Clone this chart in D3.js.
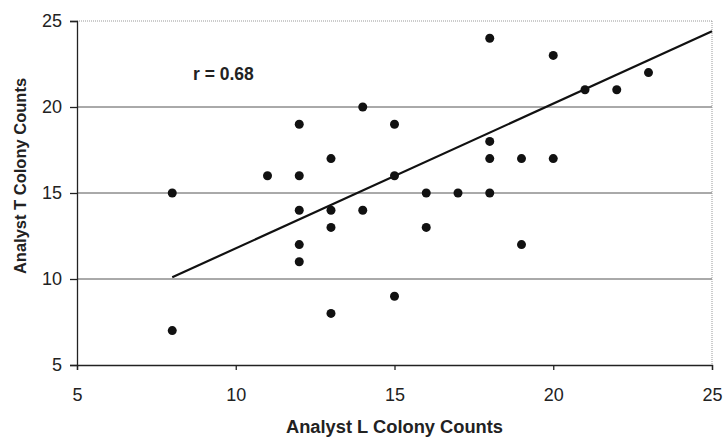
<!DOCTYPE html>
<html>
<head>
<meta charset="utf-8">
<script src="https://cdn.jsdelivr.net/npm/d3@7"></script>
<style>
  html, body { margin: 0; padding: 0; background: #fff; }
  svg { display: block; font-family: "Liberation Sans", Arial, sans-serif; }
</style>
</head>
<body>
<svg id="chart" width="724" height="438"></svg>
<script>
// Colony counts: analyst L (x) against analyst T (y)
const analystL = [8, 8, 11, 12, 12, 12, 12, 12, 13, 13, 13, 13, 14, 14, 15, 15, 15,
                  16, 16, 17, 18, 18, 18, 18, 19, 19, 20, 20, 21, 22, 23];
const analystT = [15, 7, 16, 19, 16, 14, 12, 11, 17, 14, 13, 8, 20, 14, 19, 16, 9,
                  15, 13, 15, 24, 18, 17, 15, 17, 12, 23, 17, 21, 21, 22];
// Fitted trend line endpoints [x, y]
const trendLine = [[8, 10.1], [25, 24.4]];
const xTicks = [5, 10, 15, 20, 25];
const yTicks = [5, 10, 15, 20, 25];
const gridValues = [10, 15, 20];
const corrLabel = "r = 0.68";

const svg = d3.select("#chart");
const m = { left: 77, right: 12, top: 21, bottom: 73 };
const W = 724, H = 438;

const x = d3.scaleLinear().domain([5, 25]).range([m.left, W - m.right]);
const y = d3.scaleLinear().domain([5, 25]).range([H - m.bottom, m.top]);

// Horizontal gridlines
svg.append("g").selectAll("line").data(gridValues).join("line")
  .attr("x1", x(5)).attr("x2", x(25))
  .attr("y1", d => y(d)).attr("y2", d => y(d))
  .attr("stroke", "#555").attr("stroke-width", 1);

// Dotted frame on top and right
svg.append("line").attr("x1", x(5)).attr("x2", x(25)).attr("y1", y(25)).attr("y2", y(25))
  .attr("stroke", "#999").attr("stroke-width", 1).attr("stroke-dasharray", "1,1");
svg.append("line").attr("x1", x(25)).attr("x2", x(25)).attr("y1", y(25)).attr("y2", y(5))
  .attr("stroke", "#999").attr("stroke-width", 1).attr("stroke-dasharray", "1,1");

// Axes
const xAxis = svg.append("g").attr("transform", `translate(0,${y(5)})`)
  .call(d3.axisBottom(x).tickValues(xTicks).tickSize(5).tickPadding(18).tickFormat(d3.format("d")));
const yAxis = svg.append("g").attr("transform", `translate(${x(5)},0)`)
  .call(d3.axisLeft(y).tickValues(yTicks).tickSize(7).tickPadding(8).tickFormat(d3.format("d")));
[xAxis, yAxis].forEach(g => {
  g.select(".domain").attr("stroke", "#222").attr("stroke-width", 1.3);
  g.selectAll(".tick line").attr("stroke", "#222").attr("stroke-width", 1.3);
  g.selectAll(".tick text").attr("font-size", 18).attr("fill", "#222")
    .attr("font-family", "'Liberation Sans', Arial, sans-serif");
});

// Trend line
svg.append("line")
  .attr("x1", x(trendLine[0][0])).attr("y1", y(trendLine[0][1]))
  .attr("x2", x(trendLine[1][0])).attr("y2", y(trendLine[1][1]))
  .attr("stroke", "#111").attr("stroke-width", 2.2);

// Points
const pts = analystL.map((v, i) => ({ l: v, t: analystT[i] }));
svg.append("g").selectAll("circle").data(pts).join("circle")
  .attr("cx", d => x(d.l)).attr("cy", d => y(d.t)).attr("r", 4.5)
  .attr("fill", "#111");

// Correlation label
svg.append("text").attr("x", 193).attr("y", 80)
  .attr("font-size", 17.5).attr("font-weight", "bold").attr("fill", "#222")
  .text(corrLabel);

// Axis titles
svg.append("text").attr("x", (x(5) + x(25)) / 2).attr("y", 433)
  .attr("text-anchor", "middle").attr("font-size", 18.3).attr("font-weight", "bold").attr("fill", "#222")
  .text("Analyst L Colony Counts");
svg.append("text")
  .attr("transform", "translate(26,176) rotate(-90)")
  .attr("text-anchor", "middle").attr("font-size", 16.5).attr("font-weight", "bold").attr("fill", "#222")
  .text("Analyst T Colony Counts");
</script>
</body>
</html>
